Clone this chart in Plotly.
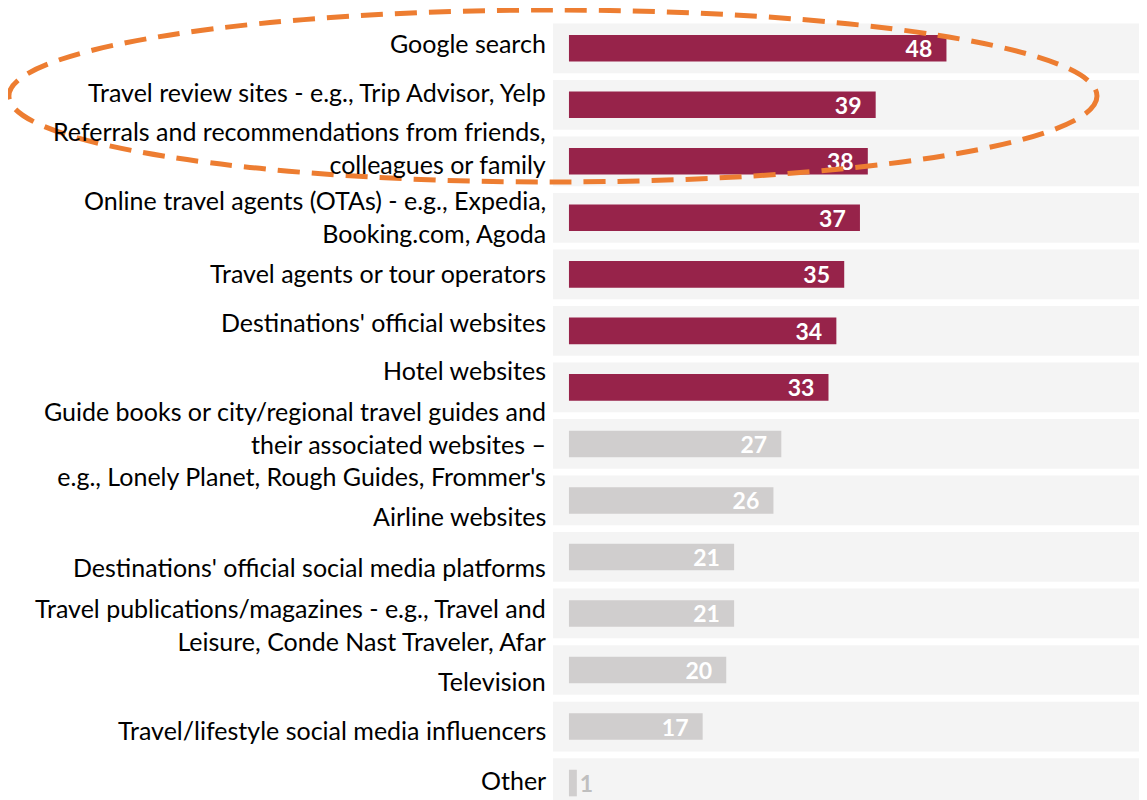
import plotly.graph_objects as go

# Sources of travel information, share of respondents (%)
sources = [
    "Google search",
    "Travel review sites - e.g., Trip Advisor, Yelp",
    "Referrals and recommendations from friends,<br>colleagues or family",
    "Online travel agents (OTAs) - e.g., Expedia,<br>Booking.com, Agoda",
    "Travel agents or tour operators",
    "Destinations' official websites",
    "Hotel websites",
    "Guide books or city/regional travel guides and<br>their associated websites –<br>e.g., Lonely Planet, Rough Guides, Frommer's",
    "Airline websites",
    "Destinations' official social media platforms",
    "Travel publications/magazines - e.g., Travel and<br>Leisure, Conde Nast Traveler, Afar",
    "Television",
    "Travel/lifestyle social media influencers",
    "Other",
]
shares = [48, 39, 38, 37, 35, 34, 33, 27, 26, 21, 21, 20, 17, 1]
highlighted = [True] * 7 + [False] * 7

# the category labels don't sit exactly on their bars in the original (px, up is +)
label_shift = [5, 13, 14, 1, 1, 9, 17, 0, -16, -10, -11, -11, -3, 3]

maroon = "#97234A"
grey = "#D0CECE"
bar_colors = [maroon if h else grey for h in highlighted]
rows = list(range(len(sources)))

fig = go.Figure()

# light row bands behind the bars
for i in rows:
    fig.add_shape(type="rect", xref="paper", x0=0, x1=1, yref="y",
                  y0=i - 0.44, y1=i + 0.44, fillcolor="#F4F4F4",
                  line_width=0, layer="below")

# tiny bars can't hold their label, so it goes next to them
text_pos = ["inside" if v >= 5 else "outside" for v in shares]

fig.add_trace(go.Bar(
    x=shares, y=rows, orientation="h",
    marker=dict(color=bar_colors, line_width=0),
    width=0.47,
    text=[str(v) + "  " if v >= 5 else str(v) for v in shares],
    textposition=text_pos, insidetextanchor="end",
    insidetextfont=dict(family="Lato", size=23, color="white", weight="bold"),
    outsidetextfont=dict(family="Lato", size=23, color="#BFBFBF", weight="bold"),
    constraintext="none", cliponaxis=False,
    hoverinfo="skip",
))

for i, (lab, dy) in enumerate(zip(sources, label_shift)):
    fig.add_annotation(text=lab, xref="paper", x=0, xanchor="right", xshift=-5,
                       yref="y", y=i, yanchor="middle", yshift=dy,
                       align="right", showarrow=False,
                       font=dict(family="Lato", size=25, color="#000000"))

# orange dashed ellipse around the top three sources
fig.add_shape(type="circle", xref="paper", yref="paper",
              x0=-0.916, x1=0.9158, y0=0.7923, y1=1.0128,
              line=dict(color="#ED7D31", width=5, dash="22px,12px"),
              layer="above")

# page body adds an 8px margin around the figure
fig.update_layout(
    width=1139, height=792,
    margin=dict(l=545, r=0, t=12, b=0),
    paper_bgcolor="white", plot_bgcolor="white",
    font=dict(family="Lato", size=25, color="#000000"),
    showlegend=False,
    xaxis=dict(range=[-2.03, 73.5], visible=False, fixedrange=True),
    yaxis=dict(range=[13.3, -0.5], showticklabels=False,
               showgrid=False, zeroline=False, ticks="", fixedrange=True),
)

fig.write_html("out.html")
